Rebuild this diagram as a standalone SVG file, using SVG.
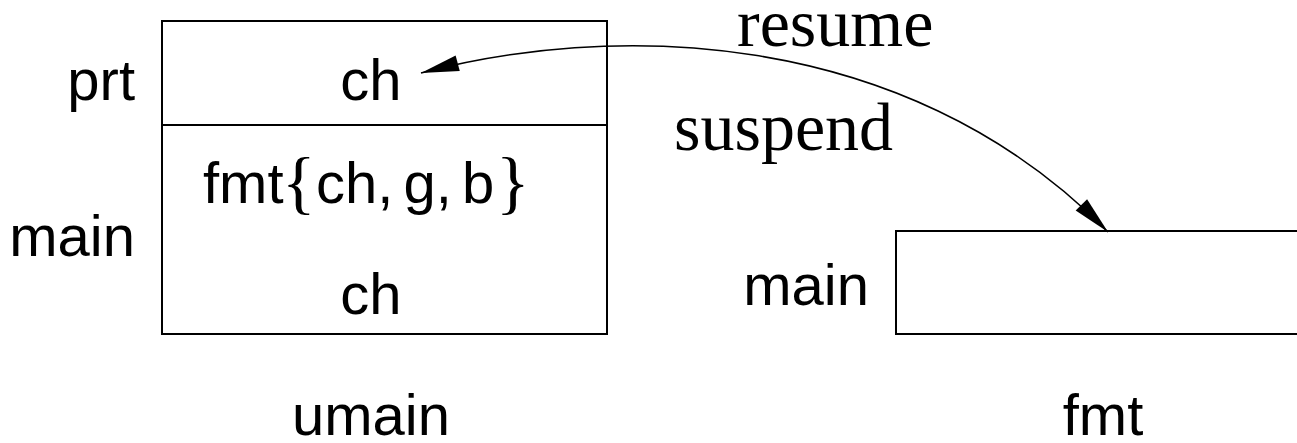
<svg xmlns="http://www.w3.org/2000/svg" width="1297" height="443" viewBox="0 0 1297 443">
  <style>
    .box { fill: none; stroke: #000; stroke-width: 2; }
    .sans { font-family: "Liberation Sans", Arial, sans-serif; font-size: 58px; fill: #000; }
    .serif { font-family: "Liberation Serif", "Times New Roman", serif; font-size: 68px; fill: #000; }
    .brace { font-family: "Liberation Serif", "Times New Roman", serif; font-size: 70px; }
    .tight { word-spacing: -6px; }
    .link { fill: none; stroke: #000; stroke-width: 1.6; }
  </style>
  <defs>
    <marker id="head" markerUnits="userSpaceOnUse" viewBox="-40 -10 42 20" refX="0" refY="0" markerWidth="42" markerHeight="20" orient="auto-start-reverse">
      <path d="M0,0 L-38,-8 L-38,8 Z" fill="#000"/>
    </marker>
  </defs>

  <g id="umain">
    <rect class="box" x="162" y="21" width="445" height="313"/>
    <line class="box" x1="162" y1="125" x2="607" y2="125"/>
    <text class="sans" x="135" y="100" text-anchor="end">prt</text>
    <text class="sans" x="135" y="256" text-anchor="end">main</text>
    <text class="sans" x="371" y="100" text-anchor="middle">ch</text>
    <text class="sans" y="203"><tspan x="203">fmt</tspan><tspan class="brace" x="282" y="206">{</tspan><tspan class="tight" x="316" y="203">ch, g, b</tspan><tspan class="brace" x="496" y="206">}</tspan></text>
    <text class="sans" x="371" y="314" text-anchor="middle">ch</text>
    <text class="sans" x="371" y="435" text-anchor="middle">umain</text>
  </g>

  <g id="fmt">
    <rect class="box" x="896" y="231" width="420" height="103"/>
    <text class="sans" x="869" y="305" text-anchor="end">main</text>
    <text class="sans" x="1103" y="435" text-anchor="middle">fmt</text>
  </g>

  <g id="connectors">
    <path class="link" d="M421,73 C600,25 900,20 1108,232" marker-start="url(#head)" marker-end="url(#head)"/>
    <text class="serif" x="737" y="46">resume</text>
    <text class="serif" x="674" y="150">suspend</text>
  </g>
</svg>
